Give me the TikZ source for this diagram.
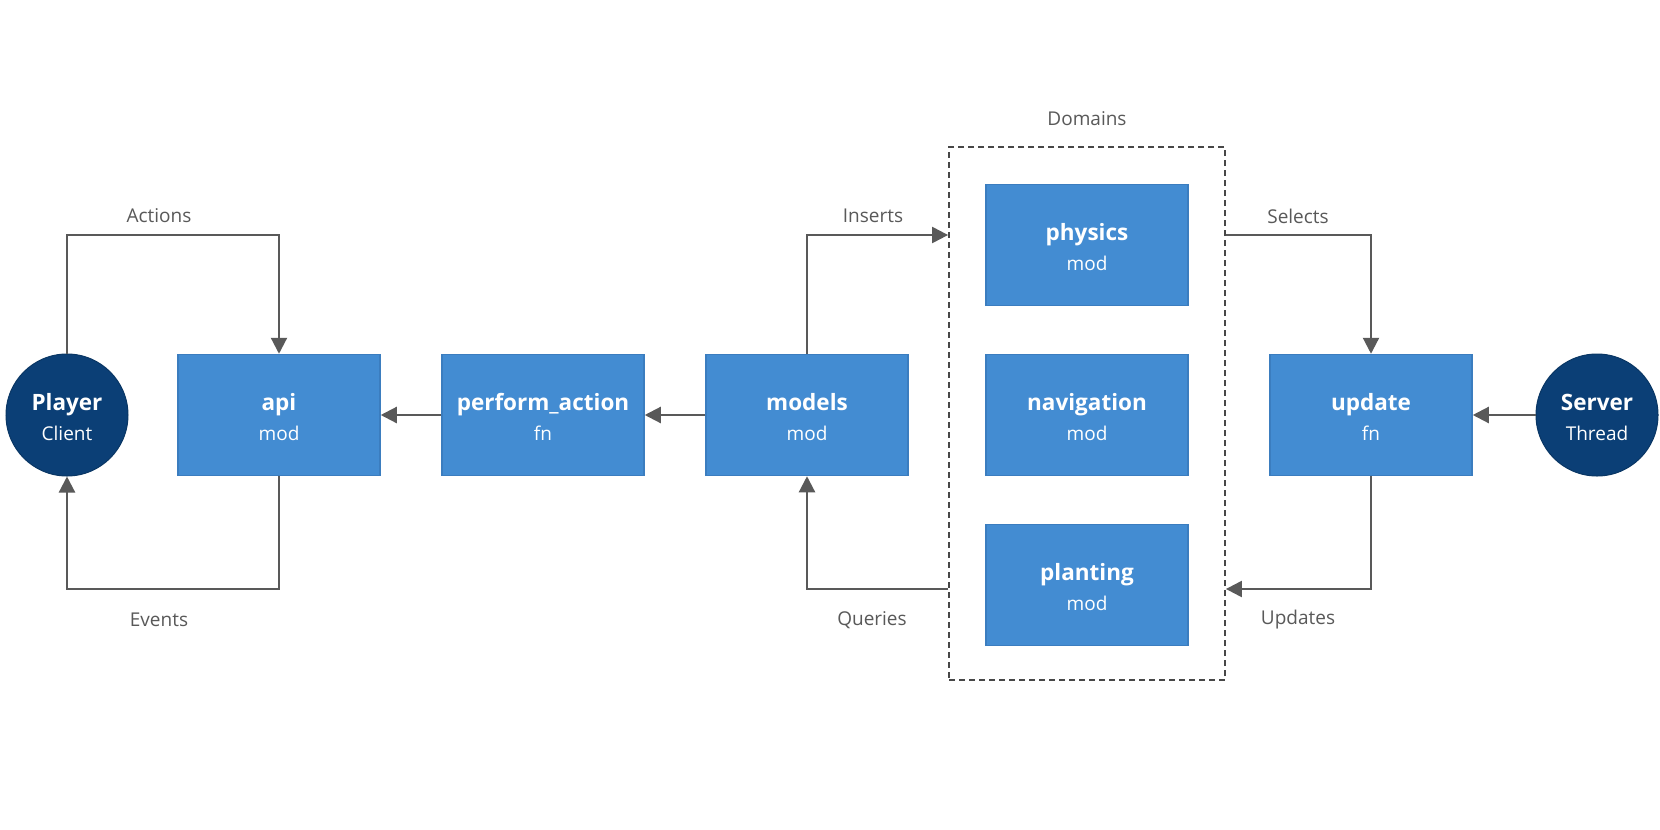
\documentclass[tikz,border=0pt]{standalone}
\usepackage{fontspec}
\setmainfont{Open Sans}
\usetikzlibrary{arrows.meta}
\definecolor{boxblue}{HTML}{438CD2}
\definecolor{boxedge}{HTML}{3B7DBF}
\definecolor{navy}{HTML}{0B3F76}
\definecolor{linegray}{HTML}{595959}
\newcommand\ttl[1]{\rule{0pt}{21pt}{\fontsize{22.5}{30}\selectfont\bfseries #1}}
\begin{document}
\begin{tikzpicture}[x=1pt,y=-1pt,
  modbox/.style={rectangle, fill=boxblue, draw=boxedge, line width=1.5pt,
    minimum width=202pt, minimum height=121pt, inner sep=0pt, text=white,
    align=center, font=\fontsize{19}{30}\selectfont},
  actor/.style={circle, fill=navy, draw=navy!85!black, line width=1pt,
    minimum size=122pt, inner sep=0pt, text=white, align=center,
    font=\fontsize{19}{30}\selectfont},
  flow/.style={draw=linegray, line width=2.2pt, -{Triangle[length=16pt,width=16pt]}},
  lbl/.style={text=linegray, font=\fontsize{19}{22}\selectfont, inner sep=0pt},
  group/.style={draw=linegray!80!black, dashed, dash pattern=on 6pt off 4pt,
    line width=1.8pt, minimum width=276pt, minimum height=533pt, inner sep=0pt}]
\useasboundingbox[fill=white] (0,0) rectangle (1660,830);

\node[actor] (player) at (67,415) {\ttl{Player}\\Client};
\node[modbox] (api) at (279,415) {\ttl{api}\\mod};
\node[modbox] (perform) at (543,415) {\ttl{perform\_action}\\fn};
\node[modbox] (models) at (807,415) {\ttl{models}\\mod};
\node[group] (domains) at (1087,413.5) {};
\node[modbox] (physics) at (1087,245) {\ttl{physics}\\mod};
\node[modbox] (navigation) at (1087,415) {\ttl{navigation}\\mod};
\node[modbox] (planting) at (1087,585) {\ttl{planting}\\mod};
\node[modbox] (update) at (1371,415) {\ttl{update}\\fn};
\node[actor] (server) at (1597,415) {\ttl{Server}\\Thread};

\coordinate (toprow) at (0,235);
\coordinate (botrow) at (0,589);

\node[lbl] (domlbl) at (1087,119) {Domains};
\node[lbl] (actlbl) at (159,216) {Actions};
\node[lbl] (evtlbl) at (159,620) {Events};
\node[lbl] (inslbl) at (873,216) {Inserts};
\node[lbl] (qrylbl) at (872,620) {Queries};
\node[lbl] (sellbl) at (1298,216) {Selects};
\node[lbl] (updlbl) at (1298,620) {Updates};

\draw[flow] (player.north) |- (toprow -| api.north) -- (api.north);
\draw[flow] (api.south) -- (botrow -| api.south) -| (player.south);
\draw[flow] (perform.west) -- (api.east);
\draw[flow] (models.west) -- (perform.east);
\draw[flow] (models.north) |- (toprow -| domains.west);
\draw[flow] (botrow -| domains.west) -| (models.south);
\draw[flow] (toprow -| domains.east) -| (update.north);
\draw[flow] (update.south) |- (botrow -| domains.east);
\draw[flow] (server.west) -- (update.east);
\end{tikzpicture}
\end{document}
